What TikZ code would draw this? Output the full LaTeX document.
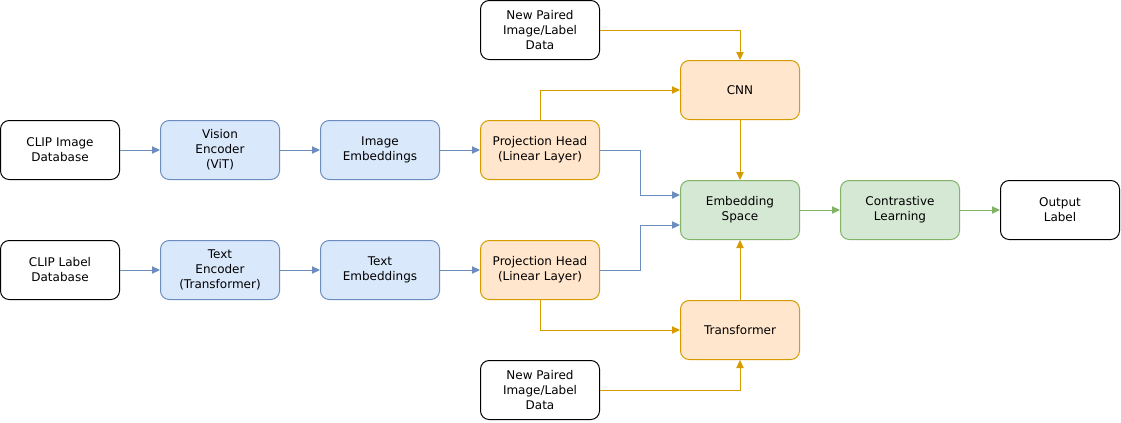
\documentclass[tikz,border=0pt]{standalone}
\usepackage{fontspec}
\setmainfont{DejaVu Sans}
\usetikzlibrary{arrows.meta}
\definecolor{bfill}{HTML}{DAE8FC}\definecolor{bline}{HTML}{6C8EBF}
\definecolor{ofill}{HTML}{FFE6CC}\definecolor{oline}{HTML}{D79B00}
\definecolor{gfill}{HTML}{D5E8D4}\definecolor{gline}{HTML}{82B366}
\tikzset{
  box/.style={draw, line width=0.75pt, rounded corners=6.5pt, minimum width=89.25pt, minimum height=44.25pt, align=center, font=\fontsize{9}{11.25}\selectfont, inner sep=1pt},
  wbox/.style={box, draw=black, fill=white},
  bbox/.style={box, draw=bline, fill=bfill},
  obox/.style={box, draw=oline, fill=ofill},
  gbox/.style={box, draw=gline, fill=gfill},
  conn/.style={line width=0.75pt, -{Triangle[length=6pt,width=5.5pt]}},
  bc/.style={conn, draw=bline, color=bline},
  oc/.style={conn, draw=oline, color=oline},
  gc/.style={conn, draw=gline, color=gline},
}
\begin{document}
\begin{tikzpicture}[x=0.75pt,y=-0.75pt]
\useasboundingbox (0,0) rectangle (1121,422);
\node[wbox] (clipimg) at (60,150) {CLIP Image\\Database};
\node[bbox] (vis) at (220,150) {Vision\\Encoder\\(ViT)};
\node[bbox] (imgemb) at (380,150) {Image\\Embeddings};
\node[obox] (proj1) at (540,150) {Projection Head\\(Linear Layer)};
\node[wbox] (cliplab) at (60,270) {CLIP Label\\Database};
\node[bbox] (txt) at (220,270) {Text\\Encoder\\(Transformer)};
\node[bbox] (txtemb) at (380,270) {Text\\Embeddings};
\node[obox] (proj2) at (540,270) {Projection Head\\(Linear Layer)};
\node[wbox] (np1) at (540,30) {New Paired\\Image/Label\\Data};
\node[wbox] (np2) at (540,390) {New Paired\\Image/Label\\Data};
\node[obox] (cnn) at (740,90) {CNN};
\node[obox] (trf) at (740,330) {Transformer};
\node[gbox] (emb) at (740,210) {Embedding\\Space};
\node[gbox] (con) at (900,210) {Contrastive\\Learning};
\node[wbox] (out) at (1060,210) {Output\\Label};
\draw[bc] (clipimg) -- (vis);
\draw[bc] (vis) -- (imgemb);
\draw[bc] (imgemb) -- (proj1);
\draw[bc] (cliplab) -- (txt);
\draw[bc] (txt) -- (txtemb);
\draw[bc] (txtemb) -- (proj2);
\draw[bc] (proj1.east) -- (640,150) -- (640,195) -- (emb.west |- 0,195);
\draw[bc] (proj2.east) -- (640,270) -- (640,225) -- (emb.west |- 0,225);
\draw[oc] (proj1.north) |- (cnn.west);
\draw[oc] (proj2.south) |- (trf.west);
\draw[oc] (np1.east) -| (cnn.north);
\draw[oc] (np2.east) -| (trf.south);
\draw[oc] (cnn) -- (emb);
\draw[oc] (trf) -- (emb);
\draw[gc] (emb) -- (con);
\draw[gc] (con) -- (out);
\end{tikzpicture}
\end{document}
